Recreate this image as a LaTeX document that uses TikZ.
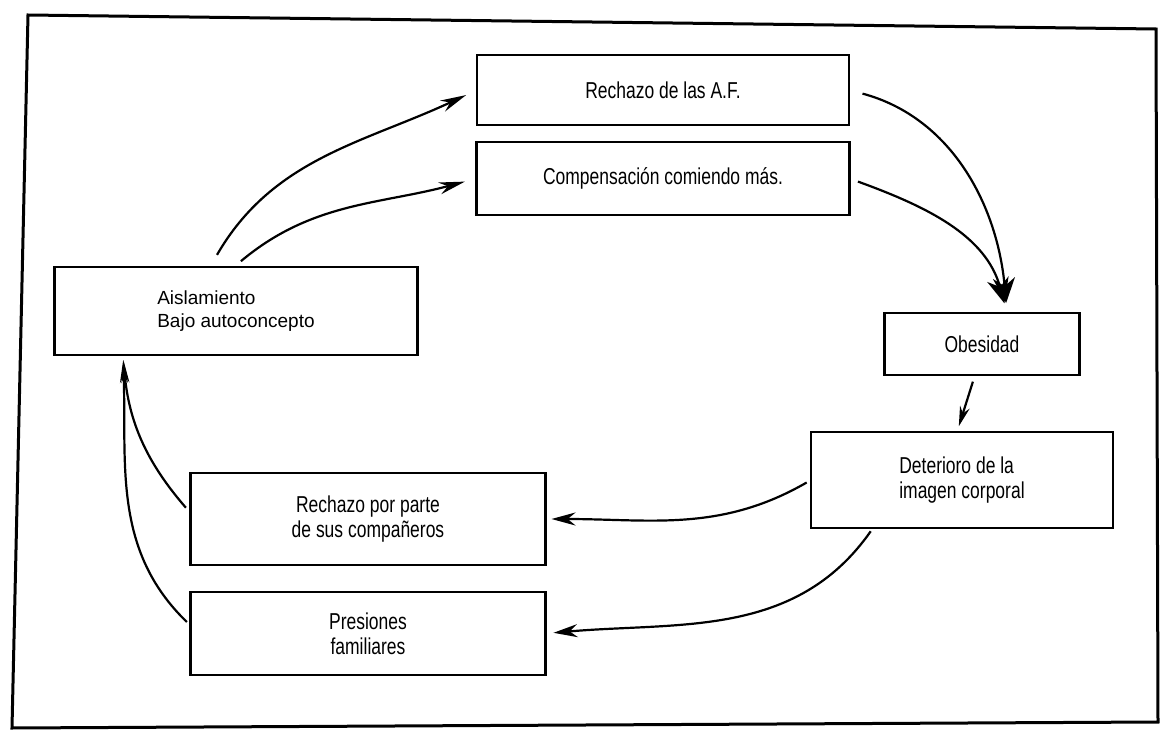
\documentclass[tikz,border=0pt]{standalone}
\usepackage{fontspec}
\setmainfont{Liberation Sans}[FakeStretch=0.76]
\newfontfamily\widesans{Liberation Sans}
\usetikzlibrary{arrows.meta,positioning}

\begin{document}
\begin{tikzpicture}[
    x=1pt,y=1pt,
    box/.style={rectangle,draw,line width=2.6pt,inner sep=0pt,outer sep=0pt,align=center,font=\fontsize{23}{25}\selectfont},
    link/.style={line width=2.2pt},
    >={Stealth[length=24pt,width=13pt]}]
    \useasboundingbox (0,0) rectangle (1160,-733);
    % page frame (slightly skewed as in the scan)
    \draw[line width=3pt] (28,-15) -- (1156,-29) -- (1158,-722) -- (12,-728) -- cycle;
    \node[box,minimum width=372pt,minimum height=70pt] (rechazoaf) at (663,-90) {Rechazo de las A.F.};
    \node[box,minimum width=373pt,minimum height=73pt,below=17pt of rechazoaf] (compens) {Compensación comiendo más.};
    \node[box,minimum width=363pt,minimum height=88pt,align=left,font=\widesans\fontsize{19}{23}\selectfont] (aislam) at (236,-311) {Aislamiento\\Bajo autoconcepto};
    \node[box,minimum width=195pt,minimum height=62pt] (obesidad) at (982,-344) {Obesidad};
    \node[box,minimum width=302pt,minimum height=96pt,align=left] (deterioro) at (962,-480) {Deterioro de la\\imagen corporal};
    \node[box,minimum width=355pt,minimum height=92pt] (rechazocomp) at (368,-519) {Rechazo por parte\\de sus compañeros};
    \node[box,minimum width=355pt,minimum height=83pt,below=27pt of rechazocomp] (presiones) {Presiones\\familiares};
    % upper half of the cycle
    \draw[link,->,>={Stealth[length=26pt,width=12pt]},shorten <=14pt,shorten >=12pt]
      ([xshift=-26pt]aislam.north) to[out=60,in=205] (rechazoaf.west);
    \draw[link,->,>={Stealth[length=26pt,width=12pt]},shorten <=9pt,shorten >=12pt]
      ([xshift=-2pt]aislam.north) to[out=40,in=195] (compens.west);
    \draw[link,->,>={Stealth[length=25pt,width=22pt]},shorten <=14pt,shorten >=10pt]
      (rechazoaf.east) to[out=-15,in=95] ([xshift=25pt]obesidad.north);
    \draw[link,->,>={Stealth[length=25pt,width=22pt]},shorten <=9pt,shorten >=10pt]
      (compens.east) to[out=-20,in=105] ([xshift=25pt]obesidad.north);
    \draw[link,->,>={Stealth[length=20pt,width=10pt]},shorten <=7pt,shorten >=6pt]
      ([xshift=-7pt]obesidad.south) -- ([xshift=-5pt]deterioro.north);
    % lower half of the cycle
    \draw[link,->,shorten <=5pt,shorten >=6pt]
      (deterioro.west) to[out=210,in=0] (rechazocomp.east);
    \draw[link,->,shorten <=4pt,shorten >=8pt]
      ([xshift=-89pt]deterioro.south) to[out=235,in=5] (presiones.east);
    \draw[link,->,>={Stealth[length=23pt,width=8pt]},shorten <=7pt,shorten >=5pt]
      ([yshift=6pt]rechazocomp.west) to[out=131,in=-85] ([xshift=-113pt]aislam.south);
    \draw[link,->,>={Stealth[length=23pt,width=8pt]},shorten <=5pt,shorten >=5pt]
      ([yshift=8pt]presiones.west) to[out=136,in=-88] ([xshift=-113pt]aislam.south);
  \end{tikzpicture}
\end{document}
